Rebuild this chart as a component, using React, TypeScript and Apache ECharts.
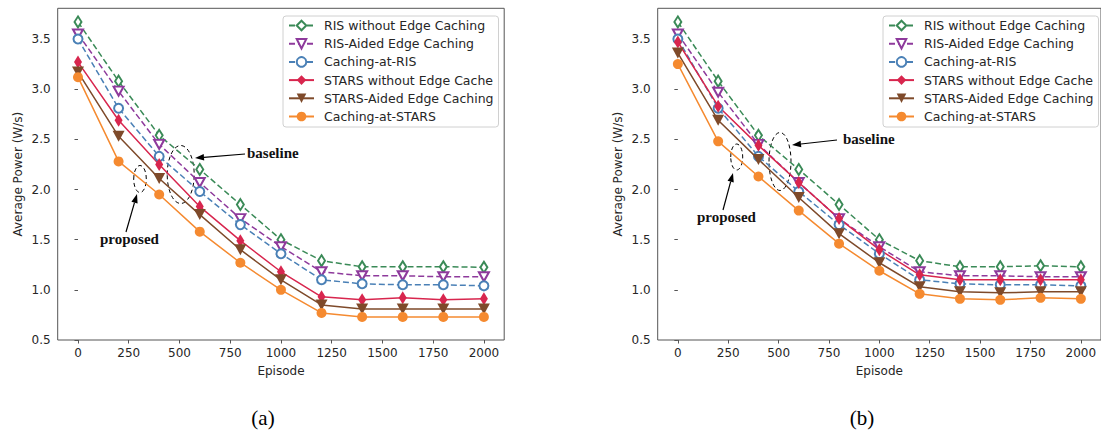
import React, { useEffect, useRef } from "react";
import * as echarts from "echarts";

const episodes = [0, 200, 400, 600, 800, 1000, 1200, 1400, 1600, 1800, 2000];
const xTicks = [0, 250, 500, 750, 1000, 1250, 1500, 1750, 2000];
const yTicks = [0.5, 1.0, 1.5, 2.0, 2.5, 3.0, 3.5];

const seriesNames = [
  "RIS without Edge Caching",
  "RIS-Aided Edge Caching",
  "Caching-at-RIS",
  "STARS without Edge Cache",
  "STARS-Aided Edge Caching",
  "Caching-at-STARS",
];

// (a)
const aRisNoCache = [3.67, 3.08, 2.54, 2.2, 1.85, 1.5, 1.29, 1.23, 1.23, 1.23, 1.225];
const aRisAided = [3.55, 2.98, 2.45, 2.07, 1.71, 1.43, 1.18, 1.14, 1.14, 1.13, 1.13];
const aCachingRis = [3.5, 2.81, 2.33, 1.98, 1.65, 1.36, 1.1, 1.06, 1.05, 1.05, 1.04];
const aStarsNoCache = [3.27, 2.69, 2.25, 1.83, 1.49, 1.18, 0.93, 0.9, 0.92, 0.9, 0.91];
const aStarsAided = [3.17, 2.53, 2.11, 1.75, 1.4, 1.1, 0.85, 0.81, 0.81, 0.81, 0.81];
const aCachingStars = [3.12, 2.28, 1.95, 1.58, 1.27, 1.0, 0.77, 0.73, 0.73, 0.73, 0.73];

// (b)
const bRisNoCache = [3.67, 3.08, 2.54, 2.2, 1.85, 1.5, 1.29, 1.23, 1.23, 1.24, 1.23];
const bRisAided = [3.55, 2.97, 2.45, 2.07, 1.71, 1.43, 1.18, 1.14, 1.14, 1.13, 1.13];
const bCachingRis = [3.5, 2.81, 2.33, 1.98, 1.65, 1.36, 1.1, 1.06, 1.05, 1.05, 1.04];
const bStarsNoCache = [3.47, 2.83, 2.44, 2.07, 1.71, 1.4, 1.15, 1.1, 1.1, 1.1, 1.1];
const bStarsAided = [3.36, 2.69, 2.3, 1.92, 1.56, 1.27, 1.03, 0.98, 0.97, 0.98, 0.98];
const bCachingStars = [3.25, 2.48, 2.13, 1.79, 1.46, 1.19, 0.96, 0.91, 0.9, 0.92, 0.91];

const styles = [
  { color: "#3a8a57", dashed: true, symbol: "emptyDiamond", size: [7, 11], rotate: 0 },
  { color: "#8e3a9c", dashed: true, symbol: "emptyTriangle", size: [10, 9], rotate: 180 },
  { color: "#4a80b6", dashed: true, symbol: "emptyCircle", size: 9, rotate: 0 },
  { color: "#d8264e", dashed: false, symbol: "diamond", size: [8, 13], rotate: 0 },
  { color: "#7e4a2a", dashed: false, symbol: "triangle", size: [12, 11], rotate: 180 },
  { color: "#f58a30", dashed: false, symbol: "circle", size: 10, rotate: 0 },
];

const FONT = "DejaVu Sans";
const TXT = "#262626";
const SPINE = "#555";

function arrow(x1: number, y1: number, x2: number, y2: number) {
  const a = Math.atan2(y2 - y1, x2 - x1);
  const c = Math.cos(a), s = Math.sin(a);
  const L = 9, W = 3.2;
  const bx = x2 - L * c, by = y2 - L * s;
  return [
    { type: "line", shape: { x1, y1, x2: bx, y2: by }, style: { stroke: "#000", lineWidth: 1.2 }, silent: true },
    {
      type: "polygon",
      shape: { points: [[x2, y2], [bx - s * W, by + c * W], [bx + s * W, by - c * W]] },
      style: { fill: "#000" },
      silent: true,
    },
  ];
}

function ellipse(cx: number, cy: number, rx: number, ry: number) {
  return {
    type: "ellipse",
    shape: { cx, cy, rx, ry },
    style: { fill: "none", stroke: "#000", lineWidth: 1, lineDash: [4, 3] },
    silent: true,
  };
}

function label(text: string, x: number, y: number, bold = true, size = 15, align = "left") {
  return {
    type: "text",
    x,
    y,
    style: {
      text,
      fill: bold ? "#111" : "#000",
      font: `${bold ? "bold " : ""}${size}px "Liberation Serif"`,
      align,
      verticalAlign: "middle",
    },
    silent: true,
  };
}

export default function App() {
  const ref = useRef<HTMLDivElement>(null);
  useEffect(() => {
    document.body.style.margin = "0";
    if (!ref.current) return;
    const chart = echarts.init(ref.current, undefined, { renderer: "svg" });

    const grids = [
      { left: 57.7, top: 8.3, width: 446.5, height: 331.7 },
      { left: 657.7, top: 8.3, width: 447, height: 331.7 },
    ].map((g) => ({ ...g, show: true, borderColor: SPINE, borderWidth: 1, backgroundColor: "transparent" }));

    const xAxes = [0, 1].map((i) => ({
      type: "value",
      gridIndex: i,
      min: -100,
      max: 2100,
      name: "Episode",
      nameLocation: "middle",
      nameGap: 25,
      nameTextStyle: { fontFamily: FONT, fontSize: 12, color: TXT },
      axisLine: { show: false },
      axisTick: { show: true, customValues: xTicks, length: 3.5, lineStyle: { color: SPINE } },
      axisLabel: {
        customValues: xTicks,
        fontFamily: FONT,
        fontSize: 12,
        color: TXT,
        margin: 7,
        formatter: (v: number) => String(v),
      },
      splitLine: { show: false },
    }));

    const yAxes = [0, 1].map((i) => ({
      type: "value",
      gridIndex: i,
      min: 0.5,
      max: 3.806,
      name: "Average Power (W/s)",
      nameLocation: "middle",
      nameGap: 34,
      nameTextStyle: { fontFamily: FONT, fontSize: 12, color: TXT },
      axisLine: { show: false },
      axisTick: { show: true, customValues: yTicks, length: 3.5, lineStyle: { color: SPINE } },
      axisLabel: {
        customValues: yTicks,
        fontFamily: FONT,
        fontSize: 12,
        color: TXT,
        margin: 7,
        formatter: (v: number) => v.toFixed(1),
      },
      splitLine: { show: false },
    }));

    const dataA = [aRisNoCache, aRisAided, aCachingRis, aStarsNoCache, aStarsAided, aCachingStars];
    const dataB = [bRisNoCache, bRisAided, bCachingRis, bStarsNoCache, bStarsAided, bCachingStars];

    const mk = (gi: number, idx: number, vals: number[]) => {
      const st = styles[idx];
      const empty = st.symbol.startsWith("empty");
      return {
        type: "line",
        name: seriesNames[idx],
        xAxisIndex: gi,
        yAxisIndex: gi,
        data: episodes.map((e, k) => [e, vals[k]]),
        symbol: st.symbol,
        symbolSize: st.size,
        symbolRotate: st.rotate,
        showAllSymbol: true,
        color: st.color,
        lineStyle: { color: st.color, width: 1.5, type: st.dashed ? [6, 3] : "solid" },
        itemStyle: empty
          ? { color: st.color, borderColor: st.color, borderWidth: 1.5 }
          : { color: st.color, borderWidth: 0 },
        emphasis: { disabled: true },
        z: 2,
      };
    };

    const series = [
      ...dataA.map((d, i) => mk(0, i, d)),
      ...dataB.map((d, i) => mk(1, i, d)),
    ];

    const legendBase = {
      orient: "vertical",
      top: 16,
      itemWidth: 25,
      itemHeight: 12,
      itemGap: 5.2,
      padding: [3, 5, 4, 5],
      backgroundColor: "rgba(255,255,255,0.85)",
      borderColor: "#d0d0d0",
      borderWidth: 1,
      borderRadius: 3,
      selectedMode: false,
      data: seriesNames,
      textStyle: { fontFamily: FONT, fontSize: 12.5, color: TXT, padding: [0, 0, 0, 5] },
    };

    const graphic = [
      // (a)
      ellipse(180.7, 174.5, 13.5, 29),
      ellipse(140, 179, 6.3, 13.5),
      ...arrow(245, 154, 195, 158),
      ...arrow(126, 232, 137, 194),
      label("baseline", 247, 153),
      label("proposed", 100, 239),
      // (b)
      ellipse(780, 161.5, 11, 29),
      ellipse(736.7, 157, 6, 13),
      ...arrow(837, 140, 792, 145),
      ...arrow(723, 210, 733, 173),
      label("baseline", 843, 139),
      label("proposed", 697, 217),
      // captions
      label("(a)", 263, 418, false, 21, "center"),
      label("(b)", 862, 418, false, 21, "center"),
    ];

    chart.setOption({
      animation: false,
      backgroundColor: "#fff",
      grid: grids,
      xAxis: xAxes,
      yAxis: yAxes,
      legend: [
        { ...legendBase, left: 283 },
        { ...legendBase, left: 883 },
      ],
      series,
      graphic,
    });
    return () => chart.dispose();
  }, []);
  return <div ref={ref} style={{ width: 1101, height: 431 }} />;
}
